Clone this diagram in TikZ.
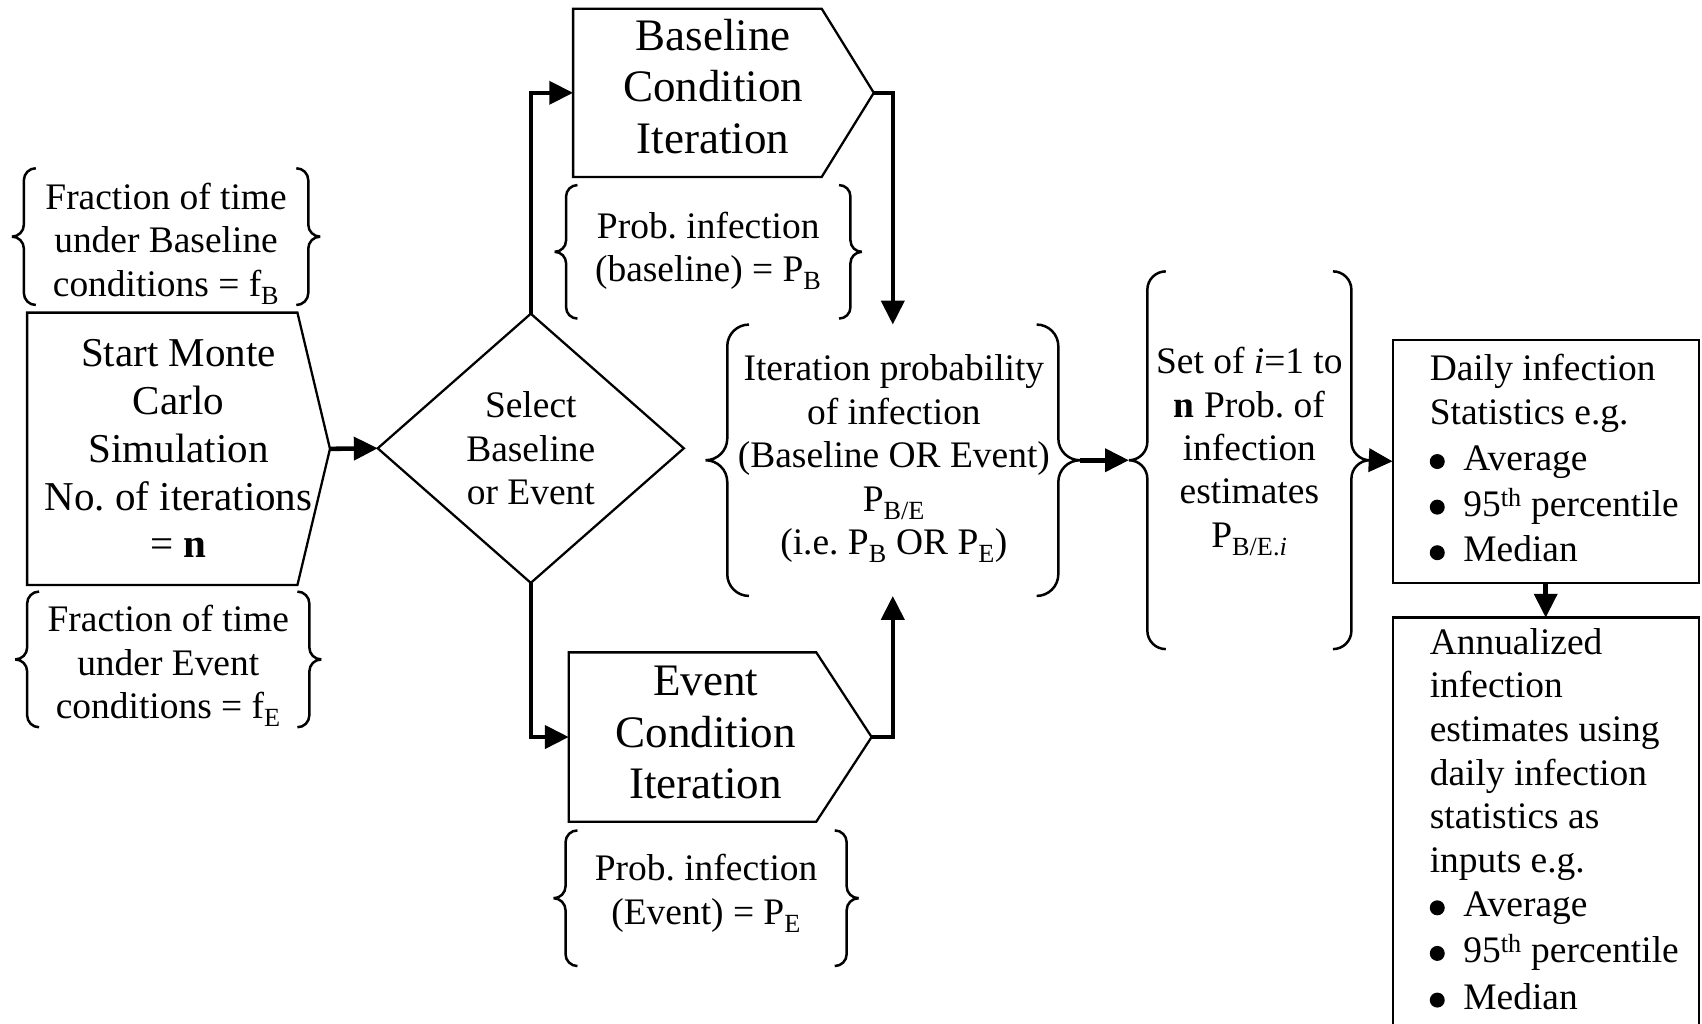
\documentclass[tikz,border=0pt]{standalone}
\usepackage{fontspec}
\setmainfont{Liberation Serif}
\usetikzlibrary{shapes.geometric,arrows.meta,calc}
\frenchspacing

% font sizes used in the flowchart
\newcommand\titlefnt{\fontsize{41.5}{47.5}\selectfont}
\newcommand\startfnt{\fontsize{37.8}{44}\selectfont}
\newcommand\bodyfnt{\fontsize{34.5}{40}\selectfont}
% list bullet: a large round dot followed by the item indent
\newcommand\bul{\makebox[31pt][l]{\pgfpicture\pgfsetbaseline{0pt}%
  \pgfpathcircle{\pgfqpoint{6.9pt}{8.3pt}}{6.9pt}\pgfusepath{fill}\endpgfpicture}}

% a pair of curly braces enclosing a node; #2 is the curl radius
\newcommand\curlypair[2]{%
  \draw[bracestroke, rounded corners=#2pt]
    ([xshift=2*#2]#1.north west) -- ([xshift=#2]#1.north west) -- ([xshift=#2]#1.west) -- (#1.west)
    (#1.west) -- ([xshift=#2]#1.west) -- ([xshift=#2]#1.south west) -- ([xshift=2*#2]#1.south west)
    ([xshift=-2*#2]#1.north east) -- ([xshift=-#2]#1.north east) -- ([xshift=-#2]#1.east) -- (#1.east)
    (#1.east) -- ([xshift=-#2]#1.east) -- ([xshift=-#2]#1.south east) -- ([xshift=-2*#2]#1.south east);}

% a box with a pointed right end; #2 is the depth of the point
\newcommand\arrowbox[2]{%
  \draw[shapestroke] (#1.north west) -- ([xshift=-#2]#1.north east) -- (#1.east)
    -- ([xshift=-#2]#1.south east) -- (#1.south west) -- cycle;}

\tikzset{
  shapestroke/.style={line width=2.1pt, line join=miter},
  bracestroke/.style={line width=2.3pt},
  flow/.style={line width=4.2pt, -{Triangle[length=22pt,width=21pt]}},
  holder/.style={inner sep=0pt, outer sep=0pt, align=center},
  body/.style={holder, font=\bodyfnt},
}

\begin{document}
\begin{tikzpicture}[x=1pt, y=-1pt]
\useasboundingbox (0,0) rectangle (1568,943);
\clip (0,0) rectangle (1568,943);
\fill[white] (0,0) rectangle (1568,943);

% start of the simulation and its inputs
\node[holder, font=\startfnt, minimum width=279pt, minimum height=251pt] (start) at (164.5,413.5)
  {Start Monte\\Carlo\\Simulation\\No. of iterations\\= \textbf{n}};
\arrowbox{start}{30}

\node[holder, minimum width=284pt, minimum height=126pt] (fracB) at (153,218) {};
\curlypair{fracB}{11}
\node[body] (fracBText) at (153,224.5) {Fraction of time\\under Baseline\\conditions = f\textsubscript{B}};
\node[holder, minimum width=282pt, minimum height=125pt] (fracE) at (155,607.5) {};
\curlypair{fracE}{11}
\node[body] (fracEText) at (155,613.5) {Fraction of time\\under Event\\conditions = f\textsubscript{E}};

% decision
\node[diamond, draw, shapestroke, inner sep=0pt, outer sep=0pt, align=center, font=\bodyfnt,
  minimum width=282pt, minimum height=248pt] (sel) at (489,413) {Select\\Baseline\\or Event};

% the two kinds of iteration
\node[holder, minimum width=277pt, minimum height=155pt] (base) at (666.5,85.5) {};
\arrowbox{base}{48}
\node[holder, font=\titlefnt] (baseText) at (657,79.5) {Baseline\\Condition\\Iteration};

\node[holder, minimum width=279pt, minimum height=156pt] (event) at (663.5,679) {};
\arrowbox{event}{51}
\node[holder, font=\titlefnt] (eventText) at (650,675) {Event\\Condition\\Iteration};

\node[holder, minimum width=283pt, minimum height=123pt] (probB) at (652.5,232) {};
\curlypair{probB}{10.5}
\node[body] (probBText) at (652.5,231) {Prob. infection\\(baseline) = P\textsubscript{B}};
\node[holder, minimum width=281pt, minimum height=125pt] (probE) at (650.5,827.5) {};
\curlypair{probE}{11}
\node[body] (probEText) at (650.5,823) {Prob. infection\\(Event) = P\textsubscript{E}};

% results
\node[holder, minimum width=345pt, minimum height=250pt] (iter) at (822.5,424) {};
\curlypair{iter}{20}
\node[body] (iterText) at (823.5,422.5)
  {Iteration probability\\of infection\\(Baseline OR Event)\\P\textsubscript{B/E}\\(i.e. P\textsubscript{B} OR P\textsubscript{E})};

\node[holder, minimum width=222pt, minimum height=348pt] (set) at (1151,424) {};
\curlypair{set}{17}
\node[body] (setText) at (1151,416)
  {Set of \textit{i}=1 to\\\textbf{n} Prob. of\\infection\\estimates\\P\textsubscript{B/E.\textit{i}}};

\node[holder, draw, shapestroke, minimum width=282pt, minimum height=224pt] (daily) at (1424,425) {};
\node[inner sep=0pt, align=left, font=\fontsize{34.5}{41}\selectfont, anchor=north west] (dailyText)
  at ([xshift=34pt, yshift=-13pt]daily.north west)
  {Daily infection\\Statistics e.g.\\[1pt]\bul Average\\[1pt]\bul 95\textsuperscript{th} percentile\\[1pt]\bul Median};

\node[holder, draw, shapestroke, minimum width=282pt, minimum height=430pt, anchor=north] (annual) at (1424,569) {};
\node[inner sep=0pt, align=left, font=\fontsize{34.5}{40.2}\selectfont, anchor=north west] (annualText)
  at ([xshift=34pt, yshift=-9.5pt]annual.north west)
  {Annualized\\infection\\estimates using\\daily infection\\statistics as\\inputs e.g.\\[0.8pt]\bul Average\\[1.8pt]\bul 95\textsuperscript{th} percentile\\[2.8pt]\bul Median};

% flow
\draw[flow] (start.east) -- (sel.west);
\draw[flow] (sel.north) |- (base.west);
\draw[flow] (base.east) -| (iter.north);
\draw[flow] (sel.south) |- (event.west);
\draw[flow] (event.east) -| (iter.south);
\draw[flow] (iter.east) -- (set.west);
\draw[flow] (set.east) -- (daily.west);
\draw[flow] (daily.south) -- (annual.north);
\end{tikzpicture}
\end{document}
